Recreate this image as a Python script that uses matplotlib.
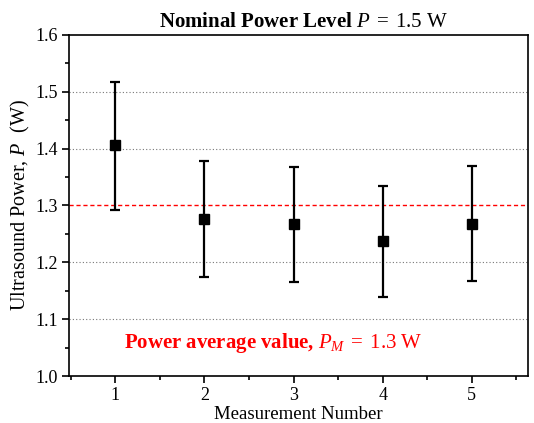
import numpy as np
import matplotlib.pyplot as plt
from matplotlib.ticker import MultipleLocator

plt.rcParams['font.family'] = 'Liberation Serif'
plt.rcParams['mathtext.fontset'] = 'custom'
plt.rcParams['mathtext.rm'] = 'Liberation Serif'
plt.rcParams['mathtext.it'] = 'Liberation Serif:italic'
plt.rcParams['mathtext.bf'] = 'Liberation Serif:bold'

measurement = [1, 2, 3, 4, 5]
power = [1.406, 1.277, 1.267, 1.237, 1.268]
err_upper = [1.518, 1.379, 1.368, 1.335, 1.369]
err_lower = [1.292, 1.175, 1.166, 1.139, 1.167]
average = 1.3

yerr = [np.array(power) - np.array(err_lower), np.array(err_upper) - np.array(power)]

fig = plt.figure(figsize=(5.34, 4.23), dpi=100)
ax = fig.add_axes([69 / 534, 1 - 376 / 423, (528 - 69) / 534, (376 - 35) / 423])

ax.axhline(average, color='red', ls=(0, (3, 2)), lw=1.0, zorder=1)
for g in [1.1, 1.2, 1.4, 1.5]:
    ax.axhline(g, color='#777777', ls=(0, (1, 2)), lw=0.8, zorder=0)

ax.errorbar(measurement, power, yerr=yerr, fmt='s', color='black', ms=7.5,
            elinewidth=1.6, capsize=3.3, capthick=1.6, zorder=3)

ax.set_xlim(0.48, 5.63)
ax.set_ylim(1.0, 1.6)
ax.xaxis.set_major_locator(MultipleLocator(1))
ax.xaxis.set_minor_locator(MultipleLocator(0.5))
ax.yaxis.set_major_locator(MultipleLocator(0.1))
ax.yaxis.set_minor_locator(MultipleLocator(0.05))
ax.tick_params(which='major', direction='out', length=5, width=1.2, labelsize=13)
ax.tick_params(axis='x', which='major', pad=3)
ax.tick_params(axis='y', which='major', pad=3)
ax.tick_params(which='minor', direction='out', length=3, width=1.2)
for s in ax.spines.values():
    s.set_linewidth(1.2)

ax.set_xlabel('Measurement Number', fontsize=13.5, labelpad=1)
ax.set_ylabel(r'Ultrasound Power, $\mathit{P}$  (W)', fontsize=14.5, labelpad=2)
ax.set_title(r'$\mathbf{Nominal\ Power\ Level}\ \mathit{P}\;=\;\mathrm{1.5\ W}$',
             fontsize=15, pad=6, x=0.51)
ax.text(2.77, 1.058, r'$\mathbf{Power\ average\ value{,}}\ \mathit{P}_{\mathit{M}}\;=\;\mathrm{1.3\ W}$',
        color='red', fontsize=15, ha='center', va='center')

fig.savefig('out.png', dpi=100)
